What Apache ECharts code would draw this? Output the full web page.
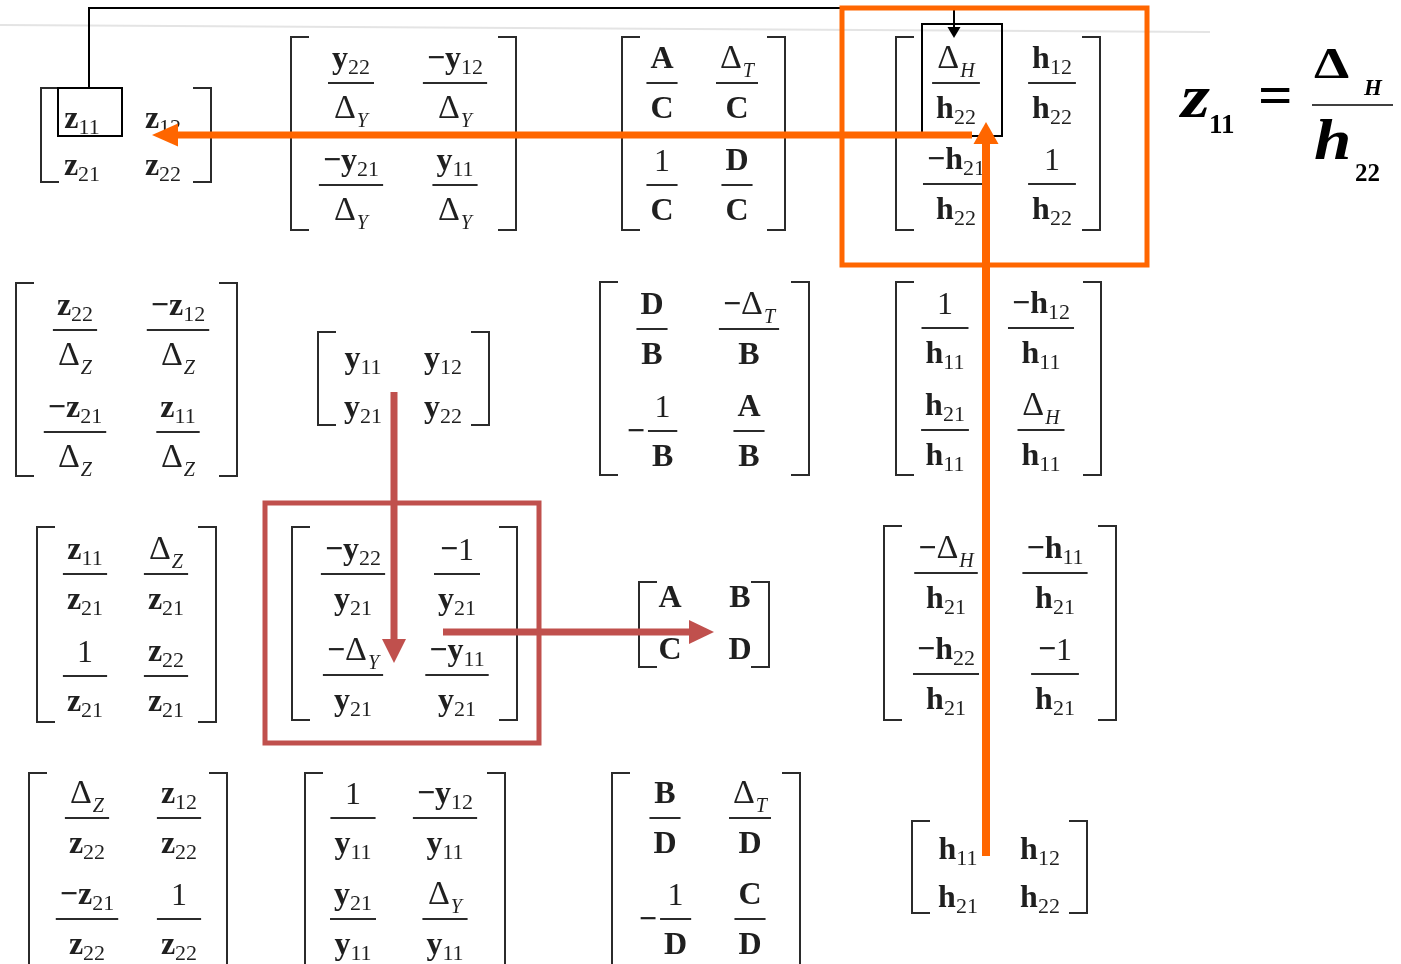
<!DOCTYPE html>
<html><head><meta charset="utf-8">
<script src="https://cdn.jsdelivr.net/npm/echarts@6/dist/echarts.min.js"></script>
<style>html,body{margin:0;padding:0;background:#fff}#main{width:1401px;height:964px}</style>
</head><body><div id="main"></div>
<script>
// ---------- DATA: two-port parameter conversion table (row = target, column = source) ----------
const zFromZ = ['z_{11}', 'z_{12}', 'z_{21}', 'z_{22}'];
const zFromY = ['y_{22}/Δ_{Y}', '−y_{12}/Δ_{Y}', '−y_{21}/Δ_{Y}', 'y_{11}/Δ_{Y}'];
const zFromT = ['A/C', 'Δ_{T}/C', '1/C', 'D/C'];
const zFromH = ['Δ_{H}/h_{22}', 'h_{12}/h_{22}', '−h_{21}/h_{22}', '1/h_{22}'];

const yFromZ = ['z_{22}/Δ_{Z}', '−z_{12}/Δ_{Z}', '−z_{21}/Δ_{Z}', 'z_{11}/Δ_{Z}'];
const yFromY = ['y_{11}', 'y_{12}', 'y_{21}', 'y_{22}'];
const yFromT = ['D/B', '−Δ_{T}/B', '−[1/B]', 'A/B'];
const yFromH = ['1/h_{11}', '−h_{12}/h_{11}', 'h_{21}/h_{11}', 'Δ_{H}/h_{11}'];

const tFromZ = ['z_{11}/z_{21}', 'Δ_{Z}/z_{21}', '1/z_{21}', 'z_{22}/z_{21}'];
const tFromY = ['−y_{22}/y_{21}', '−1/y_{21}', '−Δ_{Y}/y_{21}', '−y_{11}/y_{21}'];
const tFromT = ['A', 'B', 'C', 'D'];
const tFromH = ['−Δ_{H}/h_{21}', '−h_{11}/h_{21}', '−h_{22}/h_{21}', '−1/h_{21}'];

const hFromZ = ['Δ_{Z}/z_{22}', 'z_{12}/z_{22}', '−z_{21}/z_{22}', '1/z_{22}'];
const hFromY = ['1/y_{11}', '−y_{12}/y_{11}', 'y_{21}/y_{11}', 'Δ_{Y}/y_{11}'];
const hFromT = ['B/D', 'Δ_{T}/D', '−[1/D]', 'C/D'];
const hFromH = ['h_{11}', 'h_{12}', 'h_{21}', 'h_{22}'];

const formulaText = ['z', '11', '=', 'Δ', 'H', 'h', '22'];

const matrixEntries = [zFromZ, zFromY, zFromT, zFromH, yFromZ, yFromY, yFromT, yFromH,
                       tFromZ, tFromY, tFromT, tFromH, hFromZ, hFromY, hFromT, hFromH];

// ---------- LAYOUT (axis units = pixels) ----------
const matrixKinds = ['simple','frac','frac','frac', 'frac','simple','frac','frac',
                     'frac','frac','simple','frac', 'frac','frac','frac','simple'];
const bracketLeft   = [41, 291, 622, 896,   16, 318, 600, 896,   37, 292, 639, 884,   29, 305, 612, 912];
const bracketRight  = [211, 516, 785, 1100, 237, 489, 809, 1101, 216, 517, 769, 1116, 227, 505, 800, 1087];
const bracketTop    = [88, 37, 37, 37,      283, 332, 282, 282,  527, 527, 582, 526,  773, 773, 773, 821];
const bracketBottom = [182, 230, 230, 230,  476, 425, 475, 475,  722, 720, 667, 720,  966, 966, 966, 913];
const colA = [82, 351, 662, 956,  75, 363, 652, 945,  85, 353, 670, 946,  87, 353, 665, 958];
const colB = [163, 455, 737, 1052, 178, 443, 749, 1041, 166, 457, 740, 1055, 179, 445, 750, 1040];
// fraction matrices: fraction-bar y; simple matrices: text baseline y
const rowA = [131, 83, 83, 83,  330, 371, 329, 328,  574, 574, 610, 573,  818, 818, 818, 862];
const rowB = [178, 185, 185, 184, 432, 420, 431, 430, 676, 675, 662, 674, 919, 919, 919, 910];

const overlayShapes = [
  {kind: 'polyline', pts: [[0, 25], [1210, 32]], color: '#e4e4e4', lw: 2},
  {kind: 'rect', pts: [[58, 88], [122, 136]], color: '#000', lw: 2},
  {kind: 'rect', pts: [[922, 24], [1002, 136]], color: '#000', lw: 2},
  {kind: 'arrow', pts: [[89, 88], [89, 8], [954, 8], [954, 38]], color: '#000', lw: 2, hl: 11, hw: 13},
  {kind: 'rect', pts: [[265, 503], [539, 743]], color: '#C0504D', lw: 5},
  {kind: 'arrow', pts: [[394, 392], [394, 663]], color: '#C0504D', lw: 7, hl: 24, hw: 24},
  {kind: 'arrow', pts: [[443, 632], [714, 632]], color: '#C0504D', lw: 7, hl: 25, hw: 24},
  {kind: 'rect', pts: [[842, 8], [1147, 265]], color: '#FF6600', lw: 5},
  {kind: 'arrow', pts: [[986, 856], [986, 122]], color: '#FF6600', lw: 8, hl: 22, hw: 25},
  {kind: 'arrow', pts: [[972, 135], [152, 135]], color: '#FF6600', lw: 7, hl: 26, hw: 23}
];

// ---------- rendering helpers ----------
const FAM = '"Liberation Serif","Times New Roman",serif';
const INK = '#1f1f1f';
const MAIN = 32, SUB = 22, DELTA = 34, SUBCAP = 20;
const NUM_UP = 12, DEN_DOWN = 38;
const mctx = document.createElement('canvas').getContext('2d');
function measure(t, font) { mctx.font = font; return mctx.measureText(t).width; }

function parseExpr(s) {
  const segs = [];
  let i = 0;
  while (i < s.length) {
    const ch = s[i];
    if (ch === '_' && s[i + 1] === '{') {
      const j = s.indexOf('}', i);
      const sub = s.slice(i + 2, j);
      if (/^\d+$/.test(sub)) segs.push({t: sub, fs: SUB, font: SUB + 'px ' + FAM, dy: 5, pad: 0});
      else segs.push({t: sub, fs: SUBCAP, font: 'italic ' + SUBCAP + 'px ' + FAM, dy: 7, pad: 1});
      i = j + 1; continue;
    }
    if (ch === 'Δ') segs.push({t: ch, fs: DELTA, font: DELTA + 'px ' + FAM, dy: 0, pad: 0});
    else if (ch === '−') segs.push({t: ch, fs: MAIN, font: 'bold ' + MAIN + 'px ' + FAM, dy: 0, pad: 0});
    else if (/\d/.test(ch)) segs.push({t: ch, fs: MAIN, font: MAIN + 'px ' + FAM, dy: 0, pad: 0});
    else segs.push({t: ch, fs: MAIN, font: 'bold ' + MAIN + 'px ' + FAM, dy: 0, pad: 0});
    i++;
  }
  segs.forEach(sg => { sg.w = measure(sg.t, sg.font) + sg.pad; });
  return segs;
}
function segsWidth(segs) { return segs.reduce((a, s) => a + s.w, 0); }
function textEl(t, font, fs, x, base, fill, sx) {
  return {type: 'text', x: x, y: base, scaleX: sx || 1, silent: true,
    style: {text: t, x: 0, y: -0.3375 * fs, font: font, fill: fill || INK,
            textAlign: 'left', textVerticalAlign: 'middle', align: 'left', verticalAlign: 'middle'}};
}
function pushSegs(children, segs, left, base) {
  let x = left;
  segs.forEach(sg => { children.push(textEl(sg.t, sg.font, sg.fs, x + sg.pad, base + sg.dy)); x += sg.w; });
}
function drawExpr(children, e, cx, base) {
  const segs = parseExpr(e);
  pushSegs(children, segs, cx - segsWidth(segs) / 2, base);
}
function drawFraction(children, e, cx, ly) {
  let neg = false;
  if (e.startsWith('−[')) { neg = true; e = e.slice(2, -1); }
  const parts = e.split('/');
  const ns = parseExpr(parts[0]), ds = parseExpr(parts[1]);
  const wn = segsWidth(ns), wd = segsWidth(ds);
  const W = Math.max(wn, wd) + 8;
  let fx = cx;
  if (neg) {
    const mf = 'bold ' + MAIN + 'px ' + FAM;
    const mw = measure('−', mf);
    const total = mw + 3 + W;
    const left = cx - total / 2;
    children.push(textEl('−', mf, MAIN, left, ly + 13));
    fx = left + mw + 3 + W / 2;
  }
  children.push({type: 'line', silent: true, shape: {x1: fx - W / 2, y1: ly, x2: fx + W / 2, y2: ly},
    style: {stroke: '#2b2b2b', lineWidth: 2}});
  pushSegs(children, ns, fx - wn / 2, ly - NUM_UP);
  pushSegs(children, ds, fx - wd / 2, ly + DEN_DOWN);
}

function renderMatrix(params, api) {
  const i = api.value(0);
  const p1 = api.coord([api.value(1), api.value(3)]);
  const p2 = api.coord([api.value(2), api.value(4)]);
  const L = p1[0], T = p1[1], R = p2[0], B = p2[1];
  const cA = api.coord([api.value(5), 0])[0], cB = api.coord([api.value(6), 0])[0];
  const rA = api.coord([0, api.value(7)])[1], rB = api.coord([0, api.value(8)])[1];
  const serif = 18;
  const bst = {stroke: '#2b2b2b', lineWidth: 2, fill: null};
  const children = [
    {type: 'polyline', silent: true, shape: {points: [[L + serif, T], [L, T], [L, B], [L + serif, B]]}, style: bst},
    {type: 'polyline', silent: true, shape: {points: [[R - serif, T], [R, T], [R, B], [R - serif, B]]}, style: bst}
  ];
  const cols = [cA, cB, cA, cB], rows = [rA, rA, rB, rB];
  matrixEntries[i].forEach((e, k) => {
    if (matrixKinds[i] === 'simple') drawExpr(children, e, cols[k], rows[k]);
    else drawFraction(children, e, cols[k], rows[k]);
  });
  return {type: 'group', children: children};
}

function renderOverlay(params, api) {
  const sh = overlayShapes[api.value(0)];
  const pts = sh.pts.map(p => api.coord(p));
  const st = {stroke: sh.color, lineWidth: sh.lw, fill: null, lineJoin: 'miter'};
  if (sh.kind === 'rect') {
    return {type: 'rect', silent: true, shape: {x: pts[0][0], y: pts[0][1], width: pts[1][0] - pts[0][0], height: pts[1][1] - pts[0][1]}, style: st};
  }
  if (sh.kind === 'polyline') {
    return {type: 'polyline', silent: true, shape: {points: pts}, style: st};
  }
  const n = pts.length;
  const tip = pts[n - 1], prev = pts[n - 2];
  const dx = tip[0] - prev[0], dy = tip[1] - prev[1];
  const len = Math.sqrt(dx * dx + dy * dy);
  const ux = dx / len, uy = dy / len;
  const base = [tip[0] - ux * sh.hl, tip[1] - uy * sh.hl];
  const shaft = pts.slice(0, n - 1).concat([[tip[0] - ux * (sh.hl - 2), tip[1] - uy * (sh.hl - 2)]]);
  const px = -uy, py = ux;
  return {type: 'group', children: [
    {type: 'polyline', silent: true, shape: {points: shaft}, style: {stroke: sh.color, lineWidth: sh.lw, fill: null, lineJoin: 'miter', lineCap: 'butt'}},
    {type: 'polygon', silent: true, shape: {points: [tip, [base[0] + px * sh.hw / 2, base[1] + py * sh.hw / 2], [base[0] - px * sh.hw / 2, base[1] - py * sh.hw / 2]]},
      style: {fill: sh.color}}
  ]};
}

function renderFormula(params, api) {
  const c = (x, y) => api.coord([x, y]);
  const ch = [];
  const bi = (fs) => 'italic bold ' + fs + 'px ' + FAM;
  const b = (fs) => 'bold ' + fs + 'px ' + FAM;
  let p;
  p = c(1181, 122); ch.push(textEl(formulaText[0], bi(62), 62, p[0], p[1], '#000', 1.2));
  p = c(1209, 135); ch.push(textEl(formulaText[1], b(27), 27, p[0], p[1], '#000'));
  p = c(1258, 119); ch.push(textEl(formulaText[2], b(58), 58, p[0], p[1], '#000', 1.05));
  const l1 = c(1312, 105), l2 = c(1393, 105);
  ch.push({type: 'line', silent: true, shape: {x1: l1[0], y1: l1[1], x2: l2[0], y2: l2[1]}, style: {stroke: '#000', lineWidth: 1.5}});
  p = c(1314, 82); ch.push(textEl(formulaText[3], b(45), 45, p[0], p[1], '#000', 1.25));
  p = c(1364, 97); ch.push(textEl(formulaText[4], bi(23), 23, p[0], p[1], '#000'));
  p = c(1314, 163); ch.push(textEl(formulaText[5], bi(56), 56, p[0], p[1], '#000', 1.2));
  p = c(1355, 183); ch.push(textEl(formulaText[6], b(25), 25, p[0], p[1], '#000'));
  return {type: 'group', children: ch};
}

const chart = echarts.init(document.getElementById('main'), null, {renderer: 'canvas'});
chart.setOption({
  animation: false,
  backgroundColor: '#ffffff',
  grid: {left: 0, right: 0, top: 0, bottom: 0},
  xAxis: {type: 'value', min: 0, max: 1401, show: false},
  yAxis: {type: 'value', min: 0, max: 964, inverse: true, show: false},
  series: [
    {type: 'custom', name: 'matrices', z: 2, clip: false, renderItem: renderMatrix,
     data: matrixEntries.map((m, i) => [i, bracketLeft[i], bracketRight[i], bracketTop[i], bracketBottom[i], colA[i], colB[i], rowA[i], rowB[i]])},
    {type: 'custom', name: 'formula', z: 2, clip: false, renderItem: renderFormula, data: [[0]]},
    {type: 'custom', name: 'overlay', z: 3, clip: false, renderItem: renderOverlay,
     data: overlayShapes.map((s, i) => [i])}
  ]
});
</script></body></html>
